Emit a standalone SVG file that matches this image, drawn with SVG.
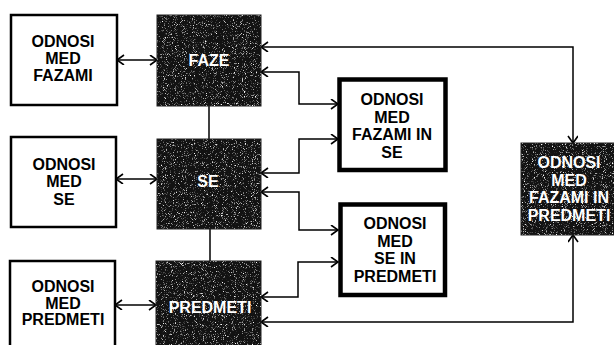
<svg xmlns="http://www.w3.org/2000/svg" width="614" height="345" viewBox="0 0 614 345">
<style>
.box{fill:#fff;stroke:#000;stroke-width:2.5}
.thick{fill:#fff;stroke:#000;stroke-width:4.5}
.dark{fill:#121212;stroke:#222;stroke-width:1}
.t{font-family:"Liberation Sans",Arial,sans-serif;font-weight:bold;font-size:16px;text-anchor:middle;fill:#000}
.w{fill:#fff}
.c{fill:none;stroke:#000;stroke-width:1.5;marker-start:url(#ah);marker-end:url(#ah)}
.p{fill:none;stroke:#000;stroke-width:1.5}
</style>
<defs>
<marker id="ah" markerUnits="userSpaceOnUse" markerWidth="10" markerHeight="12" refX="8" refY="5" orient="auto-start-reverse">
<path d="M1,0 L8,5 L1,10" fill="none" stroke="#000" stroke-width="1.6"/>
</marker>
<filter id="speck" x="0" y="0" width="100%" height="100%">
<feTurbulence type="fractalNoise" baseFrequency="1.1" numOctaves="2" seed="4"/>
<feColorMatrix type="matrix" values="0 0 0 0 1 0 0 0 0 1 0 0 0 0 1 4 0 0 0 -2.3"/>
</filter>
</defs>
<g id="connectors">
<path class="c" d="M117,60 H157"/>
<path class="c" d="M116,179 H157"/>
<path class="c" d="M115,305 H156"/>
<path class="p" d="M209,106 V139"/>
<path class="p" d="M210,229 V261"/>
<path class="c" d="M573,143 V47 H261"/>
<path class="c" d="M261,72 H299 V104 H338"/>
<path class="c" d="M261,173 H299 V139 H338"/>
<path class="c" d="M261,192 H299 V230 H338"/>
<path class="c" d="M261,297 H298 V262 H338"/>
<path class="c" d="M261,322 H573 V235"/>
</g>
<g id="odnosi-med-fazami">
<rect class="box" x="11" y="15" width="106" height="90"/>
<text class="t" x="63" y="47">ODNOSI</text>
<text class="t" x="63" y="64">MED</text>
<text class="t" x="63" y="81">FAZAMI</text>
</g>
<g id="odnosi-med-se">
<rect class="box" x="11" y="137" width="105" height="90"/>
<text class="t" x="64" y="170">ODNOSI</text>
<text class="t" x="64" y="187">MED</text>
<text class="t" x="64" y="205">SE</text>
</g>
<g id="odnosi-med-predmeti">
<rect class="box" x="10" y="261" width="105" height="95"/>
<text class="t" x="63" y="292">ODNOSI</text>
<text class="t" x="63" y="308.5">MED</text>
<text class="t" x="63" y="325">PREDMETI</text>
</g>
<g id="faze">
<rect class="dark" x="157" y="15" width="104" height="91"/>
<rect x="157" y="15" width="104" height="91" filter="url(#speck)"/>
<text class="t w" x="209" y="66">FAZE</text>
</g>
<g id="se">
<rect class="dark" x="157" y="139" width="104" height="90"/>
<rect x="157" y="139" width="104" height="90" filter="url(#speck)"/>
<text class="t w" x="208" y="187">SE</text>
</g>
<g id="predmeti">
<rect class="dark" x="156" y="261" width="105" height="90"/>
<rect x="156" y="261" width="105" height="90" filter="url(#speck)"/>
<text class="t w" x="210" y="313">PREDMETI</text>
</g>
<g id="odnosi-med-fazami-in-se">
<rect class="thick" x="339.5" y="79.5" width="106" height="90.5"/>
<text class="t" x="392" y="105">ODNOSI</text>
<text class="t" x="392" y="122.5">MED</text>
<text class="t" x="392" y="140">FAZAMI IN</text>
<text class="t" x="392" y="157.5">SE</text>
</g>
<g id="odnosi-med-se-in-predmeti">
<rect class="thick" x="340.5" y="204.5" width="104.5" height="90.5"/>
<text class="t" x="395" y="229">ODNOSI</text>
<text class="t" x="395" y="246.5">MED</text>
<text class="t" x="395" y="264">SE IN</text>
<text class="t" x="395" y="281.5">PREDMETI</text>
</g>
<g id="odnosi-med-fazami-in-predmeti">
<rect class="dark" x="521" y="143" width="100" height="92"/>
<rect x="521" y="143" width="100" height="92" filter="url(#speck)"/>
<text class="t w" x="569" y="168">ODNOSI</text>
<text class="t w" x="569" y="185.5">MED</text>
<text class="t w" x="569" y="203">FAZAMI IN</text>
<text class="t w" x="569" y="220.5">PREDMETI</text>
</g>
</svg>
